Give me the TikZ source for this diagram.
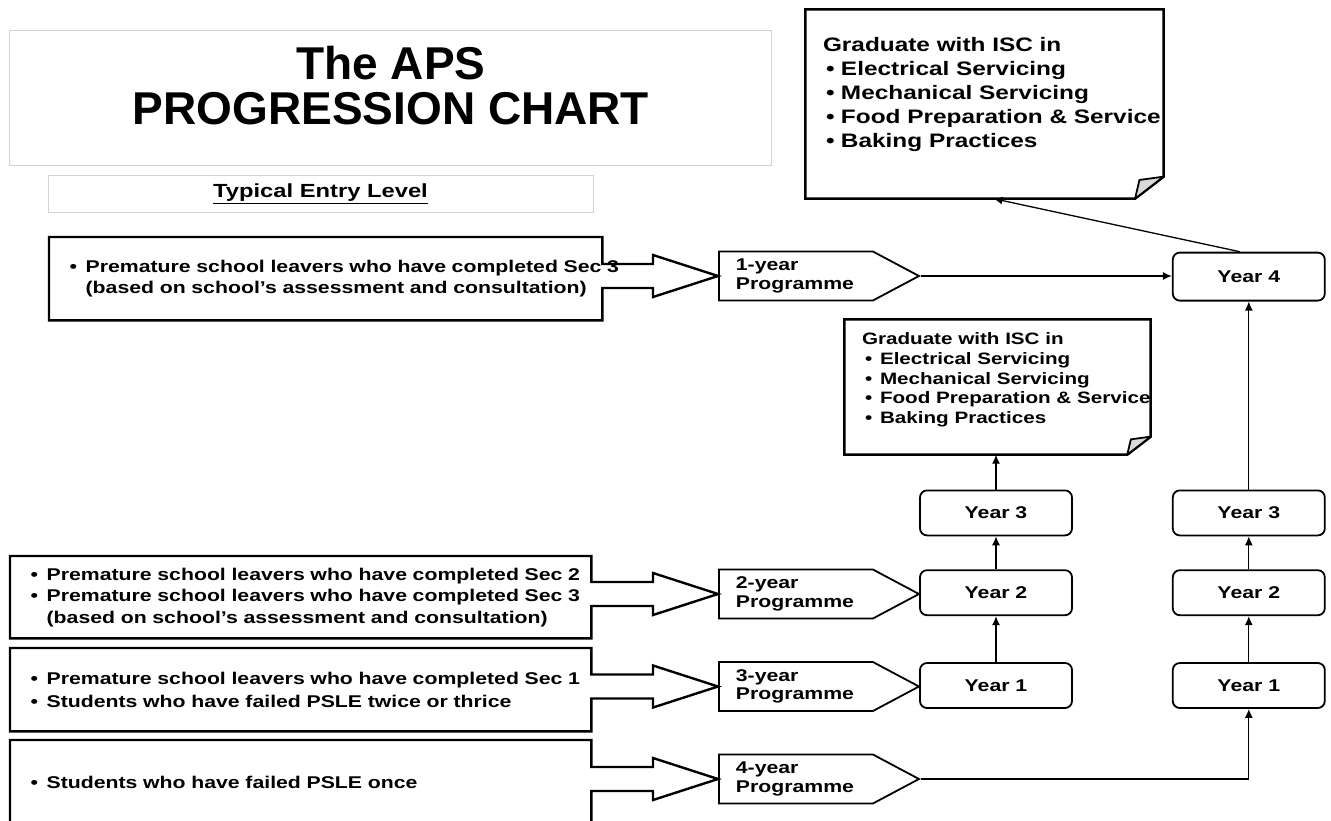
\documentclass[tikz,border=0pt]{standalone}
\usepackage{fontspec}
\setmainfont{Liberation Sans}
\newfontfamily\widesf{Liberation Sans}[FakeStretch=1.25]
\usetikzlibrary{arrows.meta,positioning,calc,shapes.symbols}

\newcommand\entryfont{\widesf\bfseries\fontsize{17}{21.5}\selectfont}
\newcommand\progfont{\widesf\bfseries\fontsize{17}{18.5}\selectfont}
\newcommand\yearfont{\widesf\bfseries\fontsize{17}{20}\selectfont}
\newcommand\levelfont{\widesf\bfseries\fontsize{19}{22}\selectfont}
\newcommand\titlefont{\bfseries\fontsize{46}{45}\selectfont}
\newcommand\gradbig{\widesf\bfseries\fontsize{19.5}{24}\selectfont}
\newcommand\gradsmall{\widesf\bfseries\fontsize{16.5}{19.6}\selectfont}

\newcommand\bul[1]{\mbox{\makebox[16pt][l]{\textbullet}#1}}
\newcommand\more[1]{\mbox{\hspace*{16pt}#1}}
\newcommand\gbul[1]{\mbox{\makebox[18pt][l]{\hspace{3pt}\textbullet}#1}}

\newcommand\entryarrow[2]{%
\draw[entryline] (#1.north west) -- (#1.north east)
 -- ($(#1.east |- #2.west)+(0,-12)$) -- ($(#2.west)+(-65,-12)$)
 -- ($(#2.west)+(-65,-21)$) -- (#2.west) -- ($(#2.west)+(-65,21)$)
 -- ($(#2.west)+(-65,12)$) -- ($(#1.east |- #2.west)+(0,12)$)
 -- (#1.south east) -- (#1.south west) -- cycle;}

\newcommand\foldbox[2]{%
\draw[noteline] (#1.north west) -- (#1.north east) -- ($(#1.south east)+(0,-#2)$)
 -- ($(#1.south east)+(-1.3*#2,0)$) -- (#1.south west) -- cycle;
\draw[foldline] ($(#1.south east)+(-1.3*#2,0)$) -- ($(#1.south east)+(-1.1*#2,-0.85*#2)$)
 -- ($(#1.south east)+(0,-#2)$) -- cycle;}

\begin{document}
\begin{tikzpicture}
[x=1pt,y=-1pt,->,>={Latex[length=9pt,width=8pt]},line width=1.3pt,
 greybox/.style={draw=gray!35,line width=0.8pt,inner sep=0pt},
 entry/.style={anchor=north west,inner xsep=20pt,inner ysep=0pt,align=left,font=\entryfont},
 entryline/.style={-,line width=2.4pt,line join=miter},
 prog/.style={signal,signal to=east,signal pointer angle=56,draw,line width=1.8pt,
   minimum height=49pt,text width=120pt,inner xsep=17pt,inner ysep=0pt,align=left,
   font=\progfont,anchor=west},
 year/.style={draw,rounded corners=7pt,line width=1.8pt,minimum width=152pt,
   minimum height=45pt,font=\yearfont},
 note/.style={inner sep=0pt},
 notetext/.style={anchor=north west,inner sep=0pt,align=left},
 noteline/.style={-,line width=2.6pt,line join=miter},
 foldline/.style={-,line width=1.8pt,fill=gray!30,line join=round}]
\useasboundingbox (0,0) rectangle (1331,820);
\clip (0,0) rectangle (1331,820);

\node[greybox,minimum width=762pt,minimum height=135pt] (ttl) at (390,97.5) {};
\node[inner sep=0pt,align=center,font=\titlefont] (ttltxt) at (391,86) {The APS\\PROGRESSION CHART};
\node[greybox,minimum width=545pt,minimum height=37pt,font=\levelfont] (lvl) at (320.5,193.5) {\underline{Typical Entry Level}};

\node[year] (y1a) at (996,685.5) {Year 1};
\node[year] (y2a) [above=46pt of y1a] {Year 2};
\node[year] (y3a) [above=33pt of y2a] {Year 3};
\node[year] (y1b) [right=99pt of y1a] {Year 1};
\node[year] (y2b) [above=46pt of y1b] {Year 2};
\node[year] (y3b) [above=33pt of y2b] {Year 3};
\node[year,minimum height=48pt] (y4) [above=188pt of y3b] {Year 4};

\node[prog] (p1) at (718,276) {1-year\\Programme};
\node[prog] (p2) at (718,594) {2-year\\Programme};
\node[prog] (p3) at (718,686.5) {3-year\\Programme};
\node[prog] (p4) at (718,779) {4-year\\Programme};

\node[entry,text width=512pt,minimum height=82pt] (eA) at (49,237)
 {\bul{Premature school leavers who have completed Sec 3}\\\more{(based on school’s assessment and consultation)}};
\node[entry,text width=540pt,minimum height=81pt] (e2) at (10,556)
 {\bul{Premature school leavers who have completed Sec 2}\\\bul{Premature school leavers who have completed Sec 3}\\\more{(based on school’s assessment and consultation)}};
\node[entry,text width=540pt,minimum height=82pt] (e3) at (10,648)
 {\bul{Premature school leavers who have completed Sec 1}\\[1.5pt]\bul{Students who have failed PSLE twice or thrice}};
\node[entry,text width=540pt,minimum height=84pt] (e4) at (10,740)
 {\bul{Students who have failed PSLE once}};
\entryarrow{eA}{p1}
\entryarrow{e2}{p2}
\entryarrow{e3}{p3}
\entryarrow{e4}{p4}

\node[note,minimum width=357pt,minimum height=188pt] (grad4) at (984.5,104) {};
\foldbox{grad4}{22}
\node[notetext,font=\gradbig] (grad4txt) at ([shift={(17,27)}]grad4.north west)
 {Graduate with ISC in\\\gbul{Electrical Servicing}\\\gbul{Mechanical Servicing}\\\gbul{Food Preparation \& Service}\\\gbul{Baking Practices}};
\node[note,minimum width=305pt,minimum height=134pt] (grad3) at (997.5,387) {};
\foldbox{grad3}{18}
\node[notetext,font=\gradsmall] (grad3txt) at ([shift={(17,13)}]grad3.north west)
 {Graduate with ISC in\\\gbul{Electrical Servicing}\\\gbul{Mechanical Servicing}\\\gbul{Food Preparation \& Service}\\\gbul{Baking Practices}};

\draw (y1a) -- (y2a);
\draw (y2a) -- (y3a);
\draw (y3a) -- (y3a |- grad3.south);
\draw (y1b) -- (y2b);
\draw (y2b) -- (y3b);
\draw (y3b) -- (y4);
\draw (p1.east) -- (p1.east -| y4.west);
\draw (p4.east) -| (y1b);
\draw ([xshift=-9pt]y4.north) -- ([xshift=9pt]grad4.south);
\end{tikzpicture}
\end{document}
